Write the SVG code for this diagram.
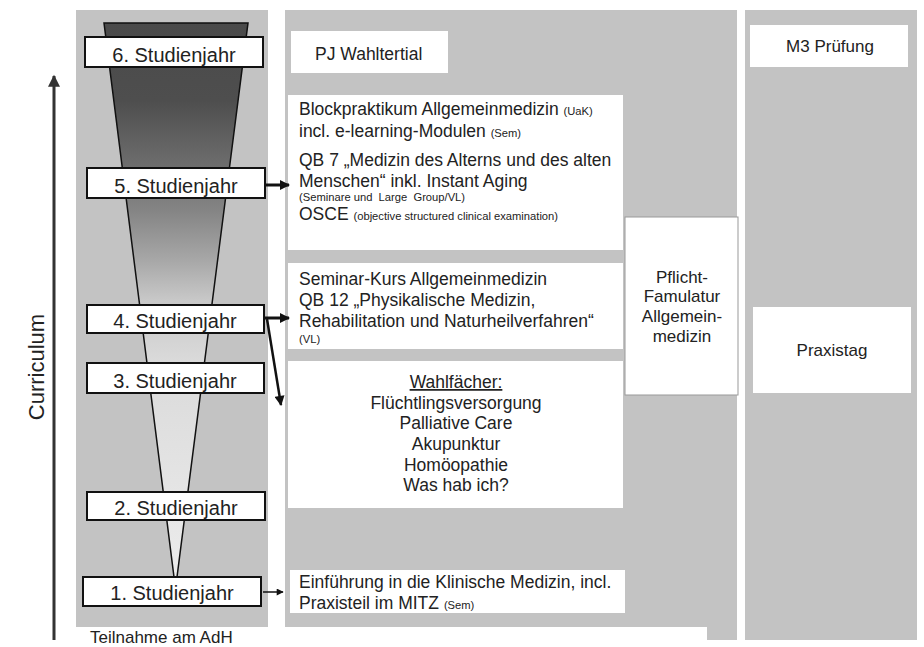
<svg xmlns="http://www.w3.org/2000/svg" width="924" height="647" viewBox="0 0 924 647">
<style>
text{font-family:"Liberation Sans",Arial,sans-serif;fill:#222}
.col{fill:#c3c3c3}
.wb{fill:#fff}
.yr{fill:#fff;stroke:#111;stroke-width:2}
.yt{font-size:20px;text-anchor:middle}
.t{font-size:17.5px}
.s{font-size:11.2px;white-space:pre}
.c{text-anchor:middle}
.con{stroke:#111;fill:none}
</style>
<defs>
<linearGradient id="fg" gradientUnits="userSpaceOnUse" x1="0" y1="23" x2="0" y2="577">
<stop offset="0" stop-color="#4a4a4a"/>
<stop offset="0.14" stop-color="#4e4e4e"/>
<stop offset="0.26" stop-color="#6e6e6e"/>
<stop offset="0.34" stop-color="#858585"/>
<stop offset="0.43" stop-color="#a8a8a8"/>
<stop offset="0.5" stop-color="#c8c8c8"/>
<stop offset="0.61" stop-color="#dadada"/>
<stop offset="1" stop-color="#ececec"/>
</linearGradient>
<marker id="ah" viewBox="0 0 10 10" refX="9" refY="5" markerWidth="12" markerHeight="10" markerUnits="userSpaceOnUse" orient="auto"><path d="M0,0 L10,5 L0,10 z" fill="#111"/></marker>
<marker id="ahs" viewBox="0 0 10 10" refX="9" refY="5" markerWidth="8" markerHeight="7" markerUnits="userSpaceOnUse" orient="auto"><path d="M0,0 L10,5 L0,10 z" fill="#111"/></marker>
<marker id="ahb" viewBox="0 0 10 10" refX="9" refY="5" markerWidth="13" markerHeight="12" markerUnits="userSpaceOnUse" orient="auto"><path d="M0,0 L10,5 L0,10 z" fill="#333"/></marker>
</defs>
<rect width="924" height="647" fill="#fff"/>

<g id="columns">
<rect class="col" x="76" y="10" width="192" height="630"/>
<rect class="col" x="285" y="10" width="452" height="630"/>
<rect class="col" x="745" y="10" width="172" height="630"/>
</g>

<g id="funnel">
<polygon points="104,23 248,23 177,577 174,577" fill="url(#fg)" stroke="#111" stroke-width="1.5"/>
</g>

<g id="curriculum">
<line x1="54" y1="640" x2="54" y2="76" stroke="#333" stroke-width="3" marker-end="url(#ahb)"/>
<text x="36" y="367" transform="rotate(-90 36 367)" style="font-size:22px;text-anchor:middle;dominant-baseline:central">Curriculum</text>
</g>

<g id="teilnahme">
<rect class="wb" x="76" y="627" width="631" height="20"/>
<text x="90" y="643" style="font-size:17px">Teilnahme am AdH</text>
</g>

<g id="y6"><rect class="yr" x="85" y="37" width="178" height="30"/><text class="yt" x="174" y="61.5">6. Studienjahr</text></g>
<g id="y5"><rect class="yr" x="87" y="168" width="178" height="30"/><text class="yt" x="176" y="192.5">5. Studienjahr</text></g>
<g id="y4"><rect class="yr" x="87" y="305" width="177" height="28"/><text class="yt" x="175" y="328">4. Studienjahr</text></g>
<g id="y3"><rect class="yr" x="87" y="363" width="177" height="30"/><text class="yt" x="175" y="387.5">3. Studienjahr</text></g>
<g id="y2"><rect class="yr" x="87" y="492" width="178" height="28"/><text class="yt" x="176" y="515">2. Studienjahr</text></g>
<g id="y1"><rect class="yr" x="83" y="577" width="178" height="29"/><text class="yt" x="172" y="600">1. Studienjahr</text></g>

<g id="pj">
<rect class="wb" x="291" y="31" width="157" height="42"/>
<text class="t" x="315" y="60">PJ Wahltertial</text>
</g>

<g id="block">
<rect class="wb" x="288" y="95" width="335" height="155"/>
<text class="t" x="299" y="115">Blockpraktikum Allgemeinmedizin <tspan class="s">(UaK)</tspan></text>
<text class="t" x="299" y="137">incl. e-learning-Modulen <tspan class="s">(Sem)</tspan></text>
<text class="t" x="299" y="166">QB 7 „Medizin des Alterns und des alten</text>
<text class="t" x="299" y="187">Menschen“ inkl. Instant Aging</text>
<text class="s" x="299" y="201">(Seminare und  Large  Group/VL)</text>
<text class="t" x="299" y="220">OSCE <tspan class="s">(objective structured clinical examination)</tspan></text>
</g>

<g id="seminar">
<rect class="wb" x="288" y="263" width="335" height="86"/>
<text class="t" x="299" y="285">Seminar-Kurs Allgemeinmedizin</text>
<text class="t" x="299" y="306">QB 12 „Physikalische Medizin,</text>
<text class="t" x="299" y="327">Rehabilitation und Naturheilverfahren“</text>
<text class="s" x="299" y="343">(VL)</text>
</g>

<g id="wahl">
<rect class="wb" x="288" y="361" width="335" height="147"/>
<text class="t c" x="456" y="388" text-decoration="underline">Wahlfächer:</text>
<text class="t c" x="456" y="408.5">Flüchtlingsversorgung</text>
<text class="t c" x="456" y="429">Palliative Care</text>
<text class="t c" x="456" y="449.5">Akupunktur</text>
<text class="t c" x="456" y="470.5">Homöopathie</text>
<text class="t c" x="456" y="491">Was hab ich?</text>
</g>

<g id="einf">
<rect class="wb" x="290" y="570" width="335" height="43"/>
<text class="t" x="299" y="588">Einführung in die Klinische Medizin, incl.</text>
<text class="t" x="299" y="609">Praxisteil im MITZ <tspan class="s">(Sem)</tspan></text>
</g>

<g id="pflicht">
<rect x="625" y="217" width="113" height="178" fill="#fff" stroke="#999" stroke-width="1"/>
<text class="c" x="682" y="283" style="font-size:17px">Pflicht-</text>
<text class="c" x="682" y="302" style="font-size:17px">Famulatur</text>
<text class="c" x="682" y="322" style="font-size:17px">Allgemein-</text>
<text class="c" x="682" y="342" style="font-size:17px">medizin</text>
</g>

<g id="m3">
<rect class="wb" x="750" y="25" width="158" height="42"/>
<text class="c" x="830" y="52" style="font-size:17px">M3 Prüfung</text>
</g>

<g id="praxistag">
<rect class="wb" x="753" y="307" width="158" height="86"/>
<text class="c" x="832" y="356" style="font-size:17px">Praxistag</text>
</g>

<g id="connectors">
<line class="con" x1="266" y1="185" x2="289" y2="185" stroke-width="3" marker-end="url(#ah)"/>
<line class="con" x1="265" y1="318" x2="289" y2="318" stroke-width="3" marker-end="url(#ah)"/>
<line class="con" x1="267" y1="319" x2="281" y2="405" stroke-width="2.5" marker-end="url(#ah)"/>
<line class="con" x1="263" y1="592" x2="283" y2="592" stroke-width="1.5" marker-end="url(#ahs)"/>
</g>
</svg>
